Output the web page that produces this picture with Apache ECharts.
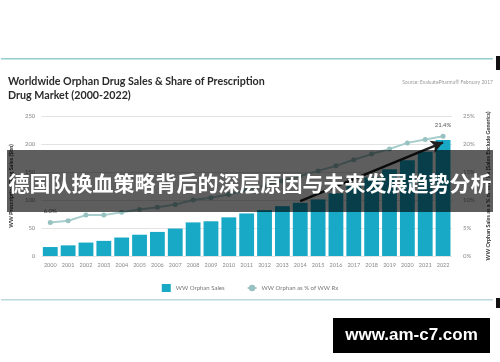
<!DOCTYPE html>
<html><head><meta charset="utf-8">
<script src="https://cdn.jsdelivr.net/npm/echarts@6/dist/echarts.min.js"></script>
<style>html,body{margin:0;padding:0;background:#fff}#c{width:500px;height:362px}</style>
</head><body><div id="c"></div>
<script>
var categories = ['2000','2001','2002','2003','2004','2005','2006','2007','2008','2009','2010','2011','2012','2013','2014','2015','2016','2017','2018','2019','2020','2021','2022'];
var salesValues = [16,19,24,27,33,38,43,49,60,62,69,76,82,89,95,101,112,125,140,155,171,186,207];
var shareValues = [6.0,6.3,7.3,7.3,7.8,8.3,8.7,9.2,10.0,10.4,11.0,11.8,12.6,13.4,14.3,15.2,16.1,17.2,18.2,19.1,20.2,20.8,21.4];
var leftTicks = {min:0, max:250, interval:50};
var rightTicks = {min:0, max:25, interval:5};
var titleLines = ['Worldwide Orphan Drug Sales & Share of Prescription','Drug Market (2000-2022)'];
var sourceText = 'Source: EvaluatePharma\u00ae February 2017';
var seriesNames = ['WW Orphan Sales','WW Orphan as % of WW Rx'];
var leftAxisName = 'WW Prescription Drug Sales ($bn)';
var rightAxisName = 'WW Orphan Sales as a % of WW Rx (Sales Exclude Generics)';
var bannerText = '德国队换血策略背后的深层原因与未来发展趋势分析';
var watermarkText = 'www.am-c7.com';
var arrowFrom = ['2014', 98];
var arrowTo = ['2022', 203];

var chart = echarts.init(document.getElementById('c'), null, {renderer:'canvas'});
var lineData = shareValues.map(function(v, i){
  if (i === 0 || i === shareValues.length - 1) {
    return {value: v, label: {show: true, position: 'top', distance: 6, formatter: function(p){return p.value.toFixed(1) + '%';}, fontSize: 6, color: '#555', fontFamily: 'Lato'}};
  }
  return v;
});
var font = 'Lato';
chart.setOption({
  animation: false,
  backgroundColor: '#ffffff',
  title: {
    text: titleLines.join('\n'), left: 3, top: 69,
    textStyle: {fontFamily: font, fontWeight: 'bold', fontSize: 10.7, color: '#2a2a2a', lineHeight: 14.5}
  },
  legend: {
    top: 279, left: 'center', itemGap: 22, itemWidth: 9, itemHeight: 8,
    textStyle: {fontFamily: font, fontSize: 6, color: '#777'},
    data: [{name: seriesNames[0], icon: 'rect'}, {name: seriesNames[1]}]
  },
  grid: {left: 38, right: 48, top: 116, bottom: 106},
  xAxis: {
    type: 'category', data: categories,
    axisLine: {show: false}, axisTick: {show: false},
    axisLabel: {interval: 0, fontFamily: font, fontSize: 5.5, color: '#888', margin: 6}
  },
  yAxis: [{
    type: 'value', min: leftTicks.min, max: leftTicks.max, interval: leftTicks.interval,
    name: leftAxisName, nameLocation: 'middle', nameGap: 23, nameRotate: 90,
    nameTextStyle: {fontFamily: font, fontSize: 5.5, fontWeight: 'bold', color: '#333'},
    axisLine: {show: false}, axisTick: {show: false},
    axisLabel: {fontFamily: font, fontSize: 6, color: '#888', margin: 6},
    splitLine: {lineStyle: {color: '#e3e3e3', width: 1}}
  }, {
    type: 'value', min: rightTicks.min, max: rightTicks.max, interval: rightTicks.interval,
    name: rightAxisName, nameLocation: 'middle', nameGap: 30, nameRotate: 90,
    nameTextStyle: {fontFamily: font, fontSize: 5.5, fontWeight: 'bold', color: '#333'},
    axisLine: {show: false}, axisTick: {show: false},
    axisLabel: {fontFamily: font, fontSize: 6, color: '#888', margin: 11, formatter: '{value}%'},
    splitLine: {show: false}
  }],
  series: [{
    name: seriesNames[0], type: 'bar', data: salesValues, barCategoryGap: '17%',
    itemStyle: {color: '#17a9c6'},
    markLine: {
      silent: true, symbol: ['none', 'arrow'], symbolSize: [10, 12],
      label: {show: false},
      lineStyle: {color: '#1e1e1e', width: 2.5, type: 'solid'},
      data: [[{coord: arrowFrom}, {coord: arrowTo}]]
    }
  }, {
    name: seriesNames[1], type: 'line', yAxisIndex: 1, data: lineData,
    symbol: 'circle', symbolSize: 5, z: 3,
    lineStyle: {color: '#a8cdcd', width: 2},
    itemStyle: {color: '#98c2c2'}
  }],
  graphic: [
    {type: 'rect', z: 100, shape: {x: 1, y: 58, width: 492, height: 1.5}, style: {fill: '#95cccc'}},
    {type: 'rect', z: 100, shape: {x: 1, y: 299, width: 492, height: 1.5}, style: {fill: '#bcdadd'}},
    {type: 'rect', z: 100, shape: {x: 496, y: 56, width: 4, height: 14}, style: {fill: '#111'}},
    {type: 'rect', z: 100, shape: {x: 496, y: 298, width: 4, height: 10}, style: {fill: '#111'}},
    {type: 'text', z: 100, right: 7, top: 80, style: {text: sourceText, fontFamily: font, fontSize: 5, fill: '#9a9a9a'}},
    {type: 'rect', z: 200, shape: {x: 7, y: 150, width: 486, height: 62}, style: {fill: 'rgba(0,0,0,0.63)'}},
    {type: 'text', z: 201, x: 250, y: 183, style: {text: bannerText, fontFamily: 'Noto Sans CJK SC', fontWeight: 'bold', fontSize: 21, fill: '#ffffff', textAlign: 'center', textVerticalAlign: 'middle'}},
    {type: 'rect', z: 200, shape: {x: 333, y: 318, width: 157, height: 35}, style: {fill: '#000000'}},
    {type: 'text', z: 201, x: 411.5, y: 335.5, style: {text: watermarkText, fontFamily: 'Liberation Sans', fontWeight: 'bold', fontSize: 17, fill: '#ffffff', textAlign: 'center', textVerticalAlign: 'middle'}}
  ]
});
</script></body></html>
